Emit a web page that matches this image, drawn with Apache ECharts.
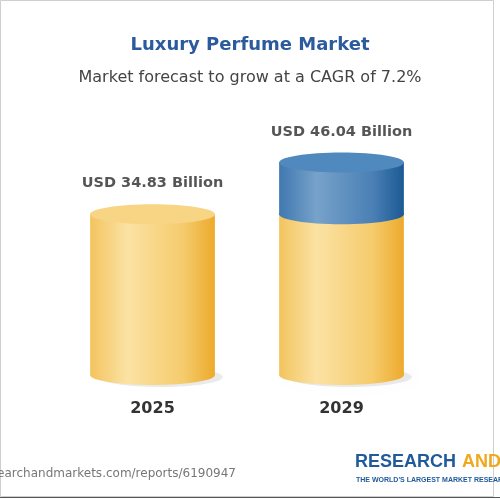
<!DOCTYPE html>
<html>
<head>
<meta charset="utf-8">
<script src="https://cdn.jsdelivr.net/npm/echarts@6/dist/echarts.min.js"></script>
<style>
  html, body { margin: 0; padding: 0; background: #fff; }
  #main { width: 500px; height: 500px; }
</style>
</head>
<body>
<div id="main"></div>
<script>
// chart data
const years = ['2025', '2029']
const marketValues = [34.83, 46.04]
const baseValues = [34.83, 34.83] // yellow part of each cylinder
const valueLabels = ['USD 34.83 Billion', 'USD 46.04 Billion']

const chart = echarts.init(document.getElementById('main'))

const yellow = {
  body: new echarts.graphic.LinearGradient(0, 0, 1, 0, [
    { offset: 0, color: '#f3c45e' },
    { offset: 0.3, color: '#fbe2a4' },
    { offset: 0.75, color: '#f5cb6c' },
    { offset: 1, color: '#edaa2c' }
  ]),
  top: '#f7d584'
}
const blue = {
  body: new echarts.graphic.LinearGradient(0, 0, 1, 0, [
    { offset: 0, color: '#3f78b0' },
    { offset: 0.3, color: '#77a2ca' },
    { offset: 0.75, color: '#4a80b5' },
    { offset: 1, color: '#1c5994' }
  ]),
  top: '#5089bd'
}

// cylinder segment from value[1] to value[2] on category value[0]
function cylinder (colors) {
  return function (params, api) {
    const bottom = api.coord([api.value(0), api.value(1)])
    const top = api.coord([api.value(0), api.value(2)])
    const w = api.size([1, 0])[0] * 0.66
    const rx = w / 2
    const ry = 10
    const x = bottom[0]
    const onGround = api.value(1) === 0
    const children = []
    if (onGround) {
      // soft shadow on the floor
      children.push({
        type: 'ellipse',
        shape: { cx: x + 8, cy: bottom[1] + 2, rx: rx, ry: ry },
        style: { fill: 'rgba(0,0,0,0.08)', shadowBlur: 6, shadowColor: 'rgba(0,0,0,0.12)' }
      })
    }
    children.push(
      {
        type: 'ellipse',
        shape: { cx: x, cy: bottom[1], rx: rx, ry: ry },
        style: { fill: colors.body }
      },
      {
        type: 'rect',
        shape: { x: x - rx, y: top[1], width: w, height: bottom[1] - top[1] },
        style: { fill: colors.body }
      },
      {
        type: 'ellipse',
        shape: { cx: x, cy: top[1], rx: rx, ry: ry },
        style: { fill: colors.top }
      }
    )
    return { type: 'group', children: children }
  }
}

const yellowData = years.map((y, i) => [i, 0, baseValues[i]])
const blueData = years
  .map((y, i) => [i, baseValues[i], marketValues[i]])
  .filter(d => d[2] > d[1])

chart.setOption({
  backgroundColor: '#fff',
  animation: false,
  title: {
    text: 'Luxury Perfume Market',
    subtext: 'Market forecast to grow at a CAGR of 7.2%',
    left: 'center',
    top: 31,
    itemGap: 16,
    textStyle: { fontFamily: 'DejaVu Sans', fontSize: 18, fontWeight: 'bold', color: '#2c5b9d' },
    subtextStyle: { fontFamily: 'DejaVu Sans', fontSize: 16, color: '#444' }
  },
  grid: {
    left: 58,
    right: 64,
    top: 98,
    bottom: 125
  },
  xAxis: {
    type: 'category',
    data: years,
    axisLine: { show: false },
    axisTick: { show: false },
    axisLabel: {
      margin: 26,
      fontFamily: 'DejaVu Sans',
      fontSize: 16,
      fontWeight: 'bold',
      color: '#333'
    }
  },
  yAxis: {
    type: 'value',
    min: 0,
    max: 60,
    show: false,
    splitLine: { show: false }
  },
  series: [
    {
      type: 'custom',
      renderItem: cylinder(yellow),
      data: yellowData,
      z: 2
    },
    {
      type: 'custom',
      renderItem: cylinder(blue),
      data: blueData,
      z: 3
    },
    {
      type: 'scatter',
      symbolSize: 0,
      data: marketValues.map((v, i) => [i, v]),
      label: {
        show: true,
        position: 'top',
        distance: 23,
        formatter: p => valueLabels[p.dataIndex],
        fontFamily: 'DejaVu Sans',
        fontSize: 14.5,
        fontWeight: 'bold',
        color: '#2b2b2b'
      },
      z: 4
    }
  ],
  graphic: [
    {
      type: 'rect',
      shape: { x: 0.5, y: 0.5, width: 493, height: 496 },
      style: { fill: 'none', stroke: '#cfcfcf', lineWidth: 1 },
      silent: true
    },
    {
      type: 'line',
      shape: { x1: 0, y1: 497.5, x2: 500, y2: 497.5 },
      style: { stroke: '#555', lineWidth: 1 },
      silent: true
    },
    {
      type: 'text',
      right: 264,
      top: 468,
      style: { text: 'https://www.researchandmarkets.com/reports/6190947', fontFamily: 'DejaVu Sans', fontSize: 12, fill: '#777' }
    },
    {
      type: 'text',
      left: 355,
      top: 453,
      style: { text: 'RESEARCH', fontFamily: 'Liberation Sans', fontSize: 18, fontWeight: 'bold', fill: '#1f5a9b' }
    },
    {
      type: 'text',
      left: 462,
      top: 453,
      style: { text: 'AND MARKETS', fontFamily: 'Liberation Sans', fontSize: 18, fontWeight: 'bold', fill: '#f0a81c' }
    },
    {
      type: 'text',
      left: 356,
      top: 477,
      style: { text: "THE WORLD'S LARGEST MARKET RESEARCH STORE", fontFamily: 'Liberation Sans', fontSize: 7, fontWeight: 'bold', fill: '#1f5a9b' }
    }
  ]
})
</script>
</body>
</html>
